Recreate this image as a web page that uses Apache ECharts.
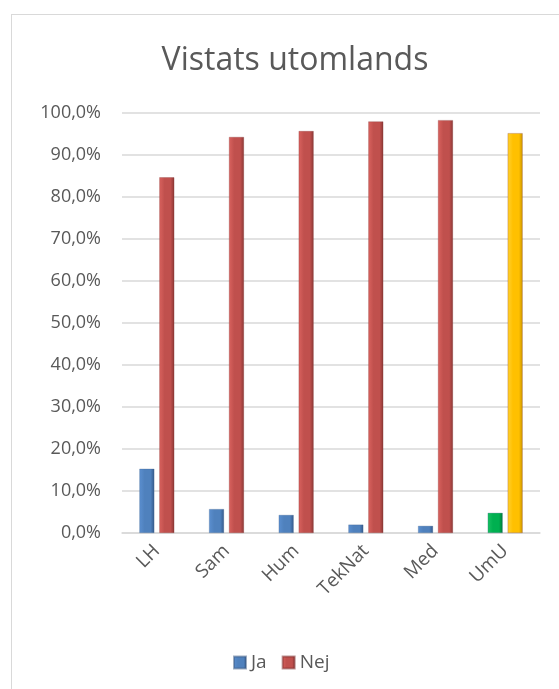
<!DOCTYPE html>
<html lang="en">
<head>
    <meta charset="utf-8">
    <title>Vistats utomlands</title>
    <script src="https://cdn.jsdelivr.net/npm/echarts@6/dist/echarts.min.js"></script>
    <style>
        html, body { margin: 0; padding: 0; overflow: hidden; background: #fff; }
        #frame { position: absolute; left: 11px; top: 14px; width: 620px; height: 720px; border: 1px solid #d9d9d9; }
        #main { position: absolute; left: 0; top: 0; width: 559px; height: 689px; }
    </style>
</head>
<body>
    <div id="frame"></div>
    <div id="main"></div>
    <script type="text/javascript">
        // data (percent)
        var categories = ['LH', 'Sam', 'Hum', 'TekNat', 'Med', 'UmU'];
        var jaValues = [15.3, 5.7, 4.3, 2.0, 1.7, 4.8];
        var nejValues = [84.7, 94.3, 95.7, 98.0, 98.3, 95.2];
        var yTicks = [0, 10, 20, 30, 40, 50, 60, 70, 80, 90, 100];

        function bevel(light, mid, dark) {
            return new echarts.graphic.LinearGradient(0, 0, 1, 0, [
                { offset: 0, color: light },
                { offset: 0.35, color: mid },
                { offset: 0.75, color: mid },
                { offset: 1, color: dark }
            ]);
        }
        var blue = bevel('#5b8fd0', '#4f81bd', '#34598a');
        var red = bevel('#d9625e', '#c0504d', '#8c3836');
        var green = bevel('#19c062', '#00b050', '#007a38');
        var yellow = bevel('#ffd030', '#ffc000', '#c99400');

        var jaData = jaValues.map(function (v, i) {
            return i === categories.length - 1 ? { value: v, itemStyle: { color: green } } : v;
        });
        var nejData = nejValues.map(function (v, i) {
            return i === categories.length - 1 ? { value: v, itemStyle: { color: yellow } } : v;
        });

        var myChart = echarts.init(document.getElementById('main'));
        myChart.setOption({
            animation: false,
            textStyle: { fontFamily: 'Open Sans' },
            title: {
                text: 'Vistats utomlands',
                left: 290,
                textAlign: 'center',
                top: 40,
                textStyle: { fontSize: 32, fontWeight: 'normal', color: '#595959', fontFamily: 'Open Sans' }
            },
            legend: {
                data: ['Ja', 'Nej'],
                top: 648,
                left: 228,
                itemWidth: 12,
                itemHeight: 12,
                itemGap: 15,
                icon: 'rect',
                textStyle: { fontSize: 19, color: '#595959' }
            },
            grid: { left: 122, right: 19, top: 113, bottom: 156 },
            xAxis: {
                type: 'category',
                data: categories,
                axisTick: { show: false },
                axisLine: { lineStyle: { color: '#d9d9d9', width: 1.5 } },
                axisLabel: { rotate: 45, fontSize: 19, color: '#595959', margin: 15 }
            },
            yAxis: {
                type: 'value',
                min: yTicks[0],
                max: yTicks[yTicks.length - 1],
                interval: 10,
                axisLine: { show: false },
                axisTick: { show: false },
                splitLine: { lineStyle: { color: '#d9d9d9', width: 1.5 } },
                axisLabel: {
                    fontSize: 18,
                    color: '#595959',
                    margin: 21,
                    formatter: function (v) { return v.toFixed(1).replace('.', ',') + '%'; }
                }
            },
            series: [{
                name: 'Ja',
                type: 'bar',
                barWidth: 15,
                barGap: '33%',
                itemStyle: { color: blue, borderColor: 'rgba(60,90,130,0.5)', borderWidth: 0.5 },
                data: jaData
            }, {
                name: 'Nej',
                type: 'bar',
                barWidth: 15,
                barGap: '33%',
                itemStyle: { color: red, borderColor: 'rgba(120,40,40,0.5)', borderWidth: 0.5 },
                data: nejData
            }]
        });
    </script>
</body>
</html>
